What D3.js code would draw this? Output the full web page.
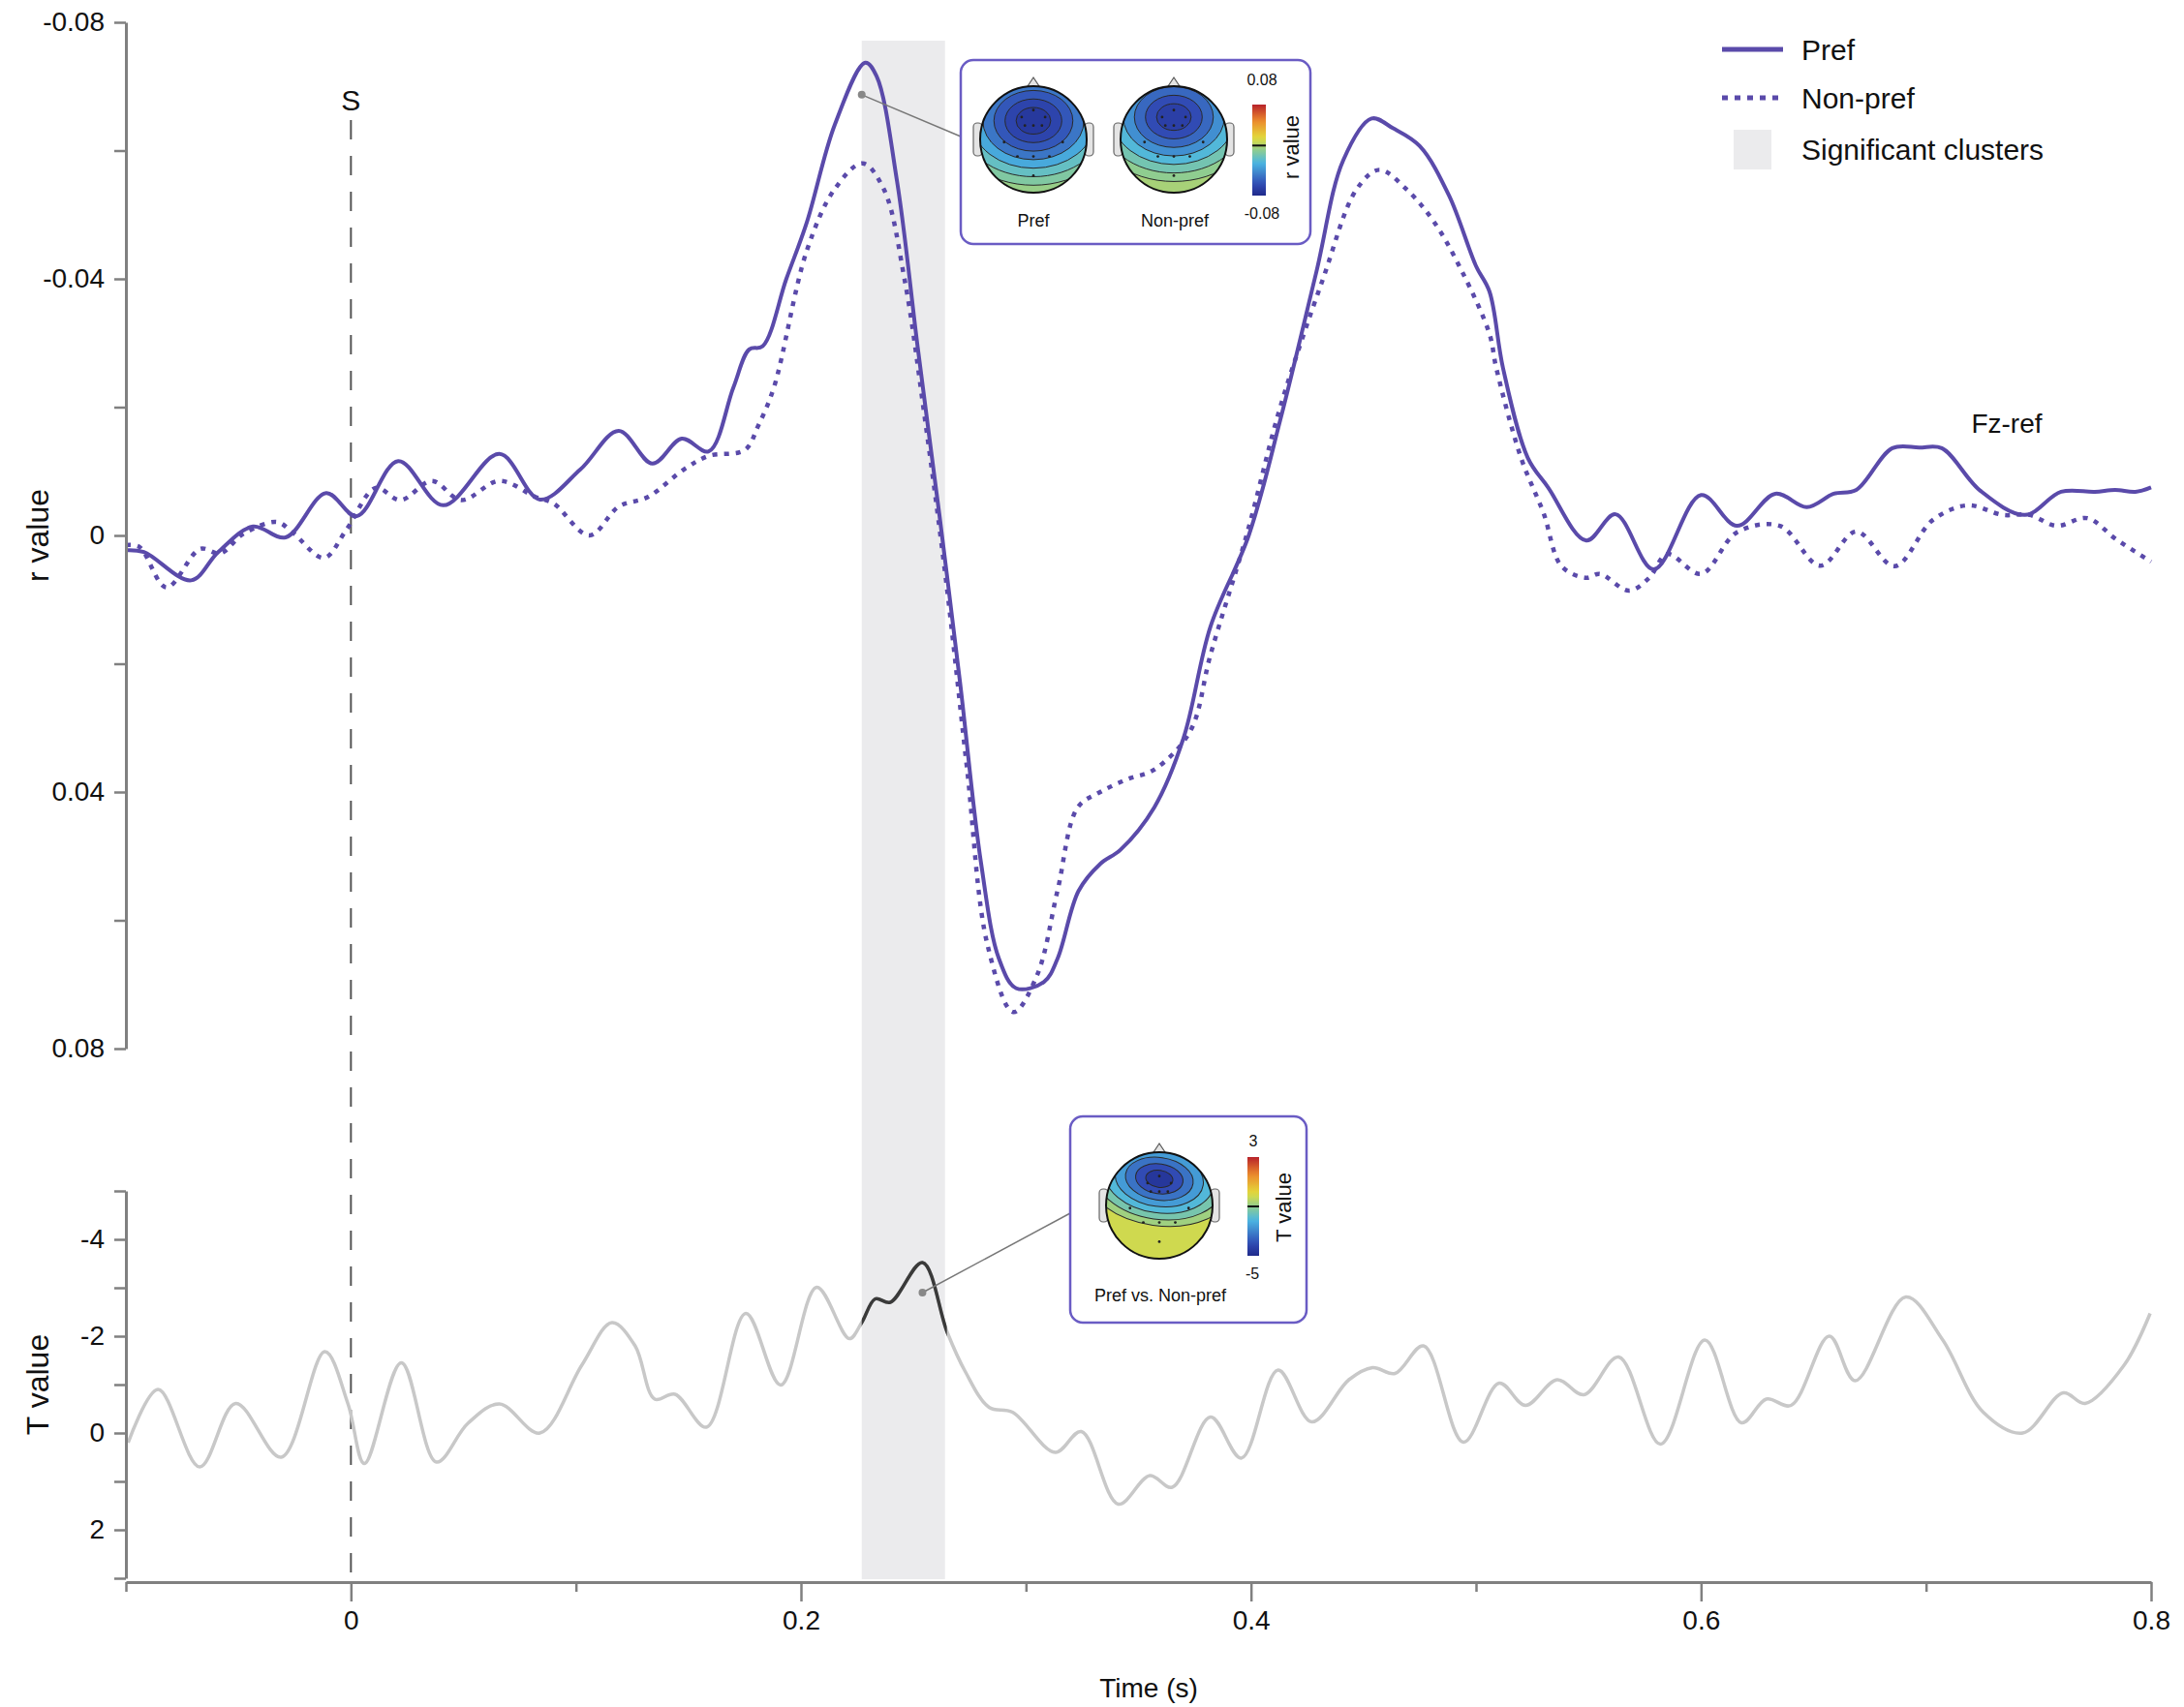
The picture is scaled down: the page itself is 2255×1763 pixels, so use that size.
<!DOCTYPE html>
<html>
<head>
<meta charset="utf-8">
<script src="https://cdn.jsdelivr.net/npm/d3@7"></script>
<style>
  body { margin: 0; background: #fff; }
  svg text { font-family: "Liberation Sans", Arial, sans-serif; fill: #111; }
</style>
</head>
<body>
<div id="chart"></div>
<script>
// ---- data ----
const prefTime = [-0.100, -0.092, -0.071, -0.059, -0.0435, -0.029, -0.011, 0.0026, 0.021, 0.041, 0.066, 0.084, 0.102, 0.119, 0.134, 0.147, 0.159, 0.170, 0.177, 0.183, 0.1935, 0.2026, 0.215, 0.2286, 0.2336, 0.2427, 0.252, 0.2616, 0.2707, 0.280, 0.288, 0.2957, 0.308, 0.314, 0.3234, 0.333, 0.342, 0.357, 0.370, 0.382, 0.399, 0.413, 0.429, 0.441, 0.4536, 0.463, 0.475, 0.488, 0.500, 0.506, 0.512, 0.523, 0.532, 0.549, 0.562, 0.579, 0.600, 0.616, 0.633, 0.647, 0.659, 0.669, 0.685, 0.697, 0.707, 0.724, 0.744, 0.760, 0.775, 0.784, 0.793, 0.800];
const prefR = [0.0023, 0.0026, 0.0070, 0.0026, -0.0014, 0.0003, -0.0066, -0.0030, -0.0116, -0.0047, -0.0127, -0.0056, -0.0103, -0.0163, -0.0112, -0.0151, -0.0131, -0.0231, -0.0290, -0.0295, -0.0400, -0.0488, -0.0640, -0.0737, -0.0716, -0.0552, -0.0290, -0.0030, 0.0229, 0.0510, 0.0660, 0.0706, 0.0696, 0.0660, 0.0554, 0.0512, 0.0490, 0.0424, 0.0316, 0.0142, 0.0000, -0.0180, -0.0410, -0.0585, -0.0650, -0.0635, -0.0607, -0.0530, -0.0420, -0.0380, -0.0261, -0.0121, -0.0075, 0.0008, -0.0033, 0.0053, -0.0063, -0.0015, -0.0065, -0.0044, -0.0065, -0.0071, -0.0136, -0.0137, -0.0136, -0.0070, -0.0032, -0.0068, -0.0068, -0.0071, -0.0068, -0.0075];

const nonprefTime = [-0.100, -0.094, -0.082, -0.067, -0.058, -0.048, -0.033, -0.026, -0.012, -0.002, 0.011, 0.022, 0.036, 0.049, 0.066, 0.082, 0.090, 0.106, 0.119, 0.132, 0.148, 0.159, 0.175, 0.181, 0.188, 0.2026, 0.215, 0.2274, 0.2368, 0.246, 0.255, 0.2647, 0.2737, 0.283, 0.2944, 0.305, 0.314, 0.323, 0.333, 0.345, 0.357, 0.373, 0.382, 0.398, 0.413, 0.432, 0.447, 0.457, 0.469, 0.4815, 0.494, 0.506, 0.509, 0.520, 0.530, 0.538, 0.549, 0.555, 0.568, 0.577, 0.585, 0.600, 0.616, 0.635, 0.653, 0.669, 0.686, 0.703, 0.7185, 0.734, 0.746, 0.758, 0.7716, 0.7845, 0.800];
const nonprefR = [0.0015, 0.0018, 0.0081, 0.0021, 0.0028, -0.0002, -0.0021, -0.0005, 0.0035, -0.0009, -0.0074, -0.0055, -0.0085, -0.0055, -0.0085, -0.0060, -0.0050, 0.0000, -0.0045, -0.0060, -0.0103, -0.0124, -0.0133, -0.0171, -0.0231, -0.0444, -0.0540, -0.0580, -0.0540, -0.0400, -0.0184, 0.0077, 0.0360, 0.0640, 0.0743, 0.0685, 0.0554, 0.0424, 0.0400, 0.0380, 0.0365, 0.0305, 0.0186, 0.0000, -0.0200, -0.0400, -0.0540, -0.0570, -0.0540, -0.0488, -0.0410, -0.0314, -0.0261, -0.0121, -0.0035, 0.0048, 0.0066, 0.0060, 0.0086, 0.0066, 0.0029, 0.0060, -0.0005, -0.0015, 0.0047, -0.0006, 0.0048, -0.0024, -0.0047, -0.0032, -0.0032, -0.0015, -0.0027, 0.0006, 0.0041];

const tTime = [-0.099, -0.0857, -0.0672, -0.0512, -0.031, -0.0116, -0.0013, 0.006, 0.0224, 0.038, 0.052, 0.066, 0.084, 0.1026, 0.116, 0.1263, 0.135, 0.144, 0.158, 0.1755, 0.191, 0.207, 0.2215, 0.227, 0.233, 0.2397, 0.254, 0.265, 0.273, 0.2836, 0.294, 0.313, 0.3246, 0.341, 0.355, 0.365, 0.382, 0.3957, 0.412, 0.427, 0.4435, 0.454, 0.464, 0.4767, 0.4944, 0.5103, 0.522, 0.536, 0.548, 0.5634, 0.582, 0.6017, 0.618, 0.629, 0.640, 0.657, 0.6685, 0.691, 0.7073, 0.7254, 0.743, 0.761, 0.7707, 0.788, 0.7996];
const tValue = [0.2, -0.9, 0.7, -0.61, 0.5, -1.68, -0.6, 0.63, -1.45, 0.6, -0.2, -0.6, 0.0, -1.4, -2.28, -1.8, -0.7, -0.8, -0.12, -2.47, -0.99, -3.01, -1.95, -2.28, -2.77, -2.7, -3.52, -2.08, -1.27, -0.53, -0.43, 0.4, -0.03, 1.47, 0.88, 1.12, -0.33, 0.52, -1.3, -0.23, -1.1, -1.35, -1.23, -1.8, 0.19, -1.03, -0.57, -1.1, -0.79, -1.57, 0.23, -1.92, -0.21, -0.7, -0.57, -2.0, -1.08, -2.81, -1.93, -0.43, 0.0, -0.83, -0.61, -1.4, -2.47];

const clusterWindow = [0.227, 0.264];
const stimulusTime = 0;

const rTicks = [-0.08, -0.06, -0.04, -0.02, 0, 0.02, 0.04, 0.06, 0.08];
const rTickLabels = [-0.08, -0.04, 0, 0.04, 0.08];
const tTicks = [-5, -4, -3, -2, -1, 0, 1, 2, 3];
const tTickLabels = [-4, -2, 0, 2];
const timeMajor = [0, 0.2, 0.4, 0.6, 0.8];
const timeMinor = [-0.1, 0.1, 0.3, 0.5, 0.7];

// topography contour levels (outer -> inner) and the points the insets point at
const prefTopoLevels = [0.002, -0.005, -0.014, -0.027, -0.045, -0.056, -0.064, -0.071];
const nonprefTopoLevels = [0.006, 0.000, -0.009, -0.020, -0.036, -0.050, -0.060, -0.067];
const diffTopoLevels = [-0.2, -0.8, -1.4, -2.0, -2.6, -3.3, -4.0, -4.6];
const rMarker = { t: 0.227, v: -0.0687 };
const tMarker = { t: 0.254, v: -2.9 };

const purple = "#5a4aaa";
const axisGrey = "#808080";

const svg = d3.select("#chart")
    .append("svg")
    .attr("width", 2255)
    .attr("height", 1763);

const x = d3.scaleLinear().domain([-0.1, 0.8]).range([130, 2221]);
const yR = d3.scaleLinear().domain([-0.08, 0.08]).range([23, 1083]);
const yT = d3.scaleLinear().domain([-5, 3]).range([1230, 1630]);

// jet-like colour map on [0,1]
const jet = d3.scaleLinear()
    .domain([0, 0.12, 0.36, 0.5, 0.63, 0.82, 1])
    .range(["#1f2a8a", "#3049b3", "#4bb6e2", "#8fcd90", "#e2dc3c", "#ec8a2c", "#b8222a"]);
const rColor = d3.scaleLinear().domain([-0.08, 0.08]).range([0, 1]);
const tColor = d3.scaleLinear().domain([-5, 3]).range([0, 1]);

// significant cluster band
svg.append("rect")
    .attr("x", x(clusterWindow[0]))
    .attr("y", 42)
    .attr("width", x(clusterWindow[1]) - x(clusterWindow[0]))
    .attr("height", 1631 - 42)
    .attr("fill", "#ebebed");

// stimulus line
svg.append("line")
    .attr("x1", x(stimulusTime)).attr("x2", x(stimulusTime))
    .attr("y1", 124).attr("y2", 1634)
    .attr("stroke", "#555")
    .attr("stroke-width", 2)
    .attr("stroke-dasharray", "20,17");

svg.append("text")
    .attr("x", x(stimulusTime))
    .attr("y", 114)
    .attr("text-anchor", "middle")
    .style("font-size", "30px")
    .text("S");

// r value curves
const pref = prefTime.map((t, i) => ({ t, v: prefR[i] }));
const nonpref = nonprefTime.map((t, i) => ({ t, v: nonprefR[i] }));
const tdata = tTime.map((t, i) => ({ t, v: tValue[i] }));

const rLine = d3.line().x(d => x(d.t)).y(d => yR(d.v)).curve(d3.curveCatmullRom.alpha(0.5));
const tLine = d3.line().x(d => x(d.t)).y(d => yT(d.v)).curve(d3.curveCatmullRom.alpha(0.5));

svg.append("path")
    .datum(nonpref)
    .attr("fill", "none")
    .attr("stroke", purple)
    .attr("stroke-width", 4.5)
    .attr("stroke-dasharray", "5,7")
    .attr("d", rLine);

svg.append("path")
    .datum(pref)
    .attr("fill", "none")
    .attr("stroke", purple)
    .attr("stroke-width", 4)
    .attr("d", rLine);

// T value curve, grey with a dark segment inside the cluster
svg.append("clipPath").attr("id", "clusterClip")
    .append("rect")
    .attr("x", x(clusterWindow[0])).attr("y", 1100)
    .attr("width", x(clusterWindow[1]) - x(clusterWindow[0]) + 2)
    .attr("height", 540);

svg.append("path")
    .datum(tdata)
    .attr("fill", "none")
    .attr("stroke", "#c8c8c8")
    .attr("stroke-width", 3.5)
    .attr("d", tLine);

svg.append("path")
    .datum(tdata)
    .attr("fill", "none")
    .attr("stroke", "#3a3a3a")
    .attr("stroke-width", 3.5)
    .attr("clip-path", "url(#clusterClip)")
    .attr("d", tLine);

// axes
function styleAxis(g) {
    g.select(".domain").attr("stroke", axisGrey).attr("stroke-width", 3);
    g.selectAll(".tick line").attr("stroke", axisGrey).attr("stroke-width", 2.5);
    g.selectAll(".tick text").style("font-size", "28px").attr("fill", "#111");
}

svg.append("g")
    .attr("transform", "translate(130,0)")
    .call(d3.axisLeft(yR).tickValues(rTicks).tickSize(12).tickSizeOuter(0).tickPadding(10)
        .tickFormat(d => rTickLabels.some(v => Math.abs(v - d) < 1e-9) ? (d === 0 ? "0" : d.toFixed(2)) : ""))
    .call(styleAxis);

svg.append("g")
    .attr("transform", "translate(130,0)")
    .call(d3.axisLeft(yT).tickValues(tTicks).tickSize(12).tickSizeOuter(0).tickPadding(10)
        .tickFormat(d => tTickLabels.includes(d) ? String(d) : ""))
    .call(styleAxis);

svg.append("g")
    .attr("transform", "translate(0,1634)")
    .call(d3.axisBottom(x).tickValues(timeMinor).tickSize(10).tickSizeOuter(0).tickFormat(""))
    .call(styleAxis);

svg.append("g")
    .attr("transform", "translate(0,1634)")
    .call(d3.axisBottom(x).tickValues(timeMajor).tickSize(20).tickSizeOuter(0).tickPadding(9)
        .tickFormat(d => d === 0 ? "0" : String(d)))
    .call(styleAxis)
    .call(g => g.select(".domain").remove());

svg.append("text")
    .attr("transform", "translate(50,553) rotate(-90)")
    .attr("text-anchor", "middle")
    .style("font-size", "32px")
    .text("r value");

svg.append("text")
    .attr("transform", "translate(50,1430) rotate(-90)")
    .attr("text-anchor", "middle")
    .style("font-size", "32px")
    .text("T value");

svg.append("text")
    .attr("x", 1186).attr("y", 1753)
    .attr("text-anchor", "middle")
    .style("font-size", "28px")
    .text("Time (s)");

svg.append("text")
    .attr("x", 2072).attr("y", 447)
    .attr("text-anchor", "middle")
    .style("font-size", "28px")
    .text("Fz-ref");

// legend
const legend = svg.append("g").attr("transform", "translate(1778,0)");
legend.append("line").attr("x1", 0).attr("x2", 63).attr("y1", 51).attr("y2", 51)
    .attr("stroke", purple).attr("stroke-width", 5);
legend.append("line").attr("x1", 0).attr("x2", 60).attr("y1", 101).attr("y2", 101)
    .attr("stroke", purple).attr("stroke-width", 5).attr("stroke-dasharray", "6,7");
legend.append("rect").attr("x", 12).attr("y", 134).attr("width", 39).attr("height", 41)
    .attr("fill", "#ebebed");
[["Pref", 51], ["Non-pref", 101], ["Significant clusters", 154]].forEach(([label, yy]) => {
    legend.append("text").attr("x", 82).attr("y", yy).attr("dy", "0.35em")
        .style("font-size", "30px").text(label);
});

// ---- topography insets ----
const electrodes = [[0, -0.55], [-0.22, -0.42], [0.22, -0.42], [-0.16, -0.26], [0.16, -0.26], [0, -0.26],
    [-0.55, 0.05], [0.55, 0.05], [-0.3, 0.32], [0.3, 0.32], [0, 0.32], [0, 0.68]];

let topoId = 0;
function drawTopo(g, cx, cy, R, levels, colorOf, shape) {
    const id = "head" + (topoId++);
    g.append("clipPath").attr("id", id)
        .append("circle").attr("cx", cx).attr("cy", cy).attr("r", R);
    // ears and nose
    [-1, 1].forEach(s => {
        g.append("rect")
            .attr("x", s < 0 ? cx - R - 7 : cx + R - 2).attr("y", cy - 17)
            .attr("width", 9).attr("height", 34).attr("rx", 4)
            .attr("fill", "#e4e4e4").attr("stroke", "#666").attr("stroke-width", 1.2);
    });
    g.append("path")
        .attr("d", `M${cx - 8},${cy - R + 3} L${cx},${cy - R - 9} L${cx + 8},${cy - R + 3}`)
        .attr("fill", "#e4e4e4").attr("stroke", "#555").attr("stroke-width", 1.2);

    const inner = g.append("g").attr("clip-path", `url(#${id})`);
    inner.append("circle").attr("cx", cx).attr("cy", cy).attr("r", R)
        .attr("fill", jet(colorOf(levels[0])));
    const ecx = cx + shape.dx * R, ecy = cy + shape.cy0 * R;
    levels.slice(1).forEach((lv, i) => {
        const k = i + 1;
        const ry = R * (shape.ry0 - shape.step * k);
        inner.append("ellipse")
            .attr("cx", ecx)
            .attr("cy", ecy)
            .attr("rx", ry * shape.aspect)
            .attr("ry", ry)
            .attr("transform", `rotate(${shape.tilt || 0},${ecx},${ecy})`)
            .attr("fill", jet(colorOf(lv)))
            .attr("stroke", "#2a2a2a")
            .attr("stroke-width", 1);
    });
    electrodes.forEach(([ex, ey]) => {
        inner.append("circle").attr("cx", cx + ex * R).attr("cy", cy + ey * R).attr("r", 1.4).attr("fill", "#222");
    });
    g.append("circle").attr("cx", cx).attr("cy", cy).attr("r", R)
        .attr("fill", "none").attr("stroke", "#111").attr("stroke-width", 2);
}

function drawColorbar(g, id, x0, y0, w, h, zeroFrac) {
    const grad = svg.append("defs").append("linearGradient")
        .attr("id", id).attr("x1", 0).attr("y1", 1).attr("x2", 0).attr("y2", 0);
    d3.range(0, 1.0001, 0.05).forEach(f => {
        grad.append("stop").attr("offset", f).attr("stop-color", jet(f));
    });
    g.append("rect").attr("x", x0).attr("y", y0).attr("width", w).attr("height", h)
        .attr("fill", `url(#${id})`);
    g.append("line").attr("x1", x0).attr("x2", x0 + w)
        .attr("y1", y0 + h * (1 - zeroFrac)).attr("y2", y0 + h * (1 - zeroFrac))
        .attr("stroke", "#111").attr("stroke-width", 2);
}

// top inset
const topInset = svg.append("g");
topInset.append("line")
    .attr("x1", x(rMarker.t)).attr("y1", yR(rMarker.v))
    .attr("x2", 992).attr("y2", 141)
    .attr("stroke", "#777").attr("stroke-width", 1.5);
topInset.append("circle").attr("cx", x(rMarker.t)).attr("cy", yR(rMarker.v)).attr("r", 4).attr("fill", "#888");
topInset.append("rect").attr("x", 992).attr("y", 62).attr("width", 361).attr("height", 190).attr("rx", 13)
    .attr("fill", "#fff").attr("stroke", "#6a5cc4").attr("stroke-width", 2.5);
drawTopo(topInset, 1067, 144, 55, prefTopoLevels, rColor, { dx: 0, cy0: -0.35, ry0: 1.37, step: 0.16, aspect: 1.3 });
drawTopo(topInset, 1212, 144, 55, nonprefTopoLevels, rColor, { dx: 0, cy0: -0.42, ry0: 1.37, step: 0.16, aspect: 1.3 });
drawColorbar(topInset, "rbar", 1293, 108, 14, 94, 0.55);
topInset.append("text").attr("x", 1067).attr("y", 228).attr("dy", "0.35em").attr("text-anchor", "middle")
    .style("font-size", "18px").text("Pref");
topInset.append("text").attr("x", 1213).attr("y", 228).attr("dy", "0.35em").attr("text-anchor", "middle")
    .style("font-size", "18px").text("Non-pref");
topInset.append("text").attr("x", 1303).attr("y", 82).attr("dy", "0.35em").attr("text-anchor", "middle")
    .style("font-size", "16px").text("0.08");
topInset.append("text").attr("x", 1303).attr("y", 220).attr("dy", "0.35em").attr("text-anchor", "middle")
    .style("font-size", "16px").text("-0.08");
topInset.append("text").attr("transform", "translate(1333,152) rotate(-90)").attr("dy", "0.35em")
    .attr("text-anchor", "middle").style("font-size", "22px").text("r value");

// bottom inset
const botInset = svg.append("g");
botInset.append("line")
    .attr("x1", x(tMarker.t)).attr("y1", yT(tMarker.v))
    .attr("x2", 1105).attr("y2", 1253)
    .attr("stroke", "#777").attr("stroke-width", 1.5);
botInset.append("circle").attr("cx", x(tMarker.t)).attr("cy", yT(tMarker.v)).attr("r", 4).attr("fill", "#888");
botInset.append("rect").attr("x", 1105).attr("y", 1153).attr("width", 244).attr("height", 213).attr("rx", 13)
    .attr("fill", "#fff").attr("stroke", "#6a5cc4").attr("stroke-width", 2.5);
drawTopo(botInset, 1197, 1245, 55, diffTopoLevels, tColor, { dx: 0, cy0: -0.5, ry0: 1.0, step: 0.12, aspect: 1.6, tilt: 8 });
drawColorbar(botInset, "tbar", 1288, 1195, 12, 102, 0.5);
botInset.append("text").attr("x", 1294).attr("y", 1178).attr("dy", "0.35em").attr("text-anchor", "middle")
    .style("font-size", "16px").text("3");
botInset.append("text").attr("x", 1293).attr("y", 1315).attr("dy", "0.35em").attr("text-anchor", "middle")
    .style("font-size", "16px").text("-5");
botInset.append("text").attr("transform", "translate(1325,1247) rotate(-90)").attr("dy", "0.35em")
    .attr("text-anchor", "middle").style("font-size", "22px").text("T value");
botInset.append("text").attr("x", 1198).attr("y", 1338).attr("dy", "0.35em").attr("text-anchor", "middle")
    .style("font-size", "18px").text("Pref vs. Non-pref");
</script>
</body>
</html>
